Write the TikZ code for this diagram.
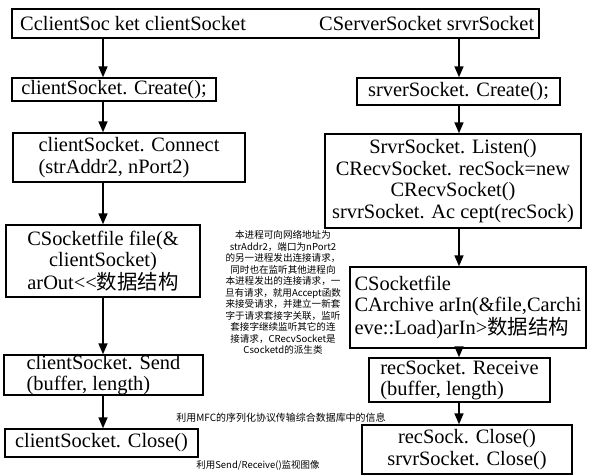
\documentclass[tikz,border=0pt]{standalone}
\usepackage{fontspec}
\setmainfont{Liberation Serif}
\newfontfamily\cjk{Noto Sans CJK SC}
\usetikzlibrary{arrows.meta}
\tikzset{
  box/.style={draw, line width=1.4bp, inner sep=0pt, font=\fontsize{20.5}{21.5}\selectfont},
  arr/.style={line width=1.6bp, -{Triangle[width=9bp,length=11bp]}},
  note/.style={inner sep=0pt, align=center, font=\cjk\fontsize{9.6}{11.5}\selectfont},
  toptext/.style={inner sep=0pt, anchor=west, font=\fontsize{20.5}{21.5}\selectfont},
}
\begin{document}
\begin{tikzpicture}[x=1bp,y=-1bp]
\fill[white] (0,0) rectangle (597,475);
\useasboundingbox (0,0) rectangle (597,475);

% top box
\node[box, minimum width=527bp, minimum height=29bp] (top) at (275.5,23.5) {};
\node[toptext] (topL) at (20,23.5) {CclientSoc ket clientSocket};
\node[toptext] (topR) at (319,23.5) {CServerSocket srvrSocket};

% left column
\node[box, minimum width=204bp, minimum height=23bp] (lc1) at (114,89.5) {clientSocket. Create();};
\node[box, minimum width=232bp, minimum height=49bp, align=left] (lc2) at (129,157.5) {clientSocket. Connect\\(strAddr2, nPort2)};
\node[box, minimum width=194bp, minimum height=72bp, align=center] (lc3) at (103,261) {CSocketfile file(\&\\clientSocket)\\arOut<{}<{\cjk 数据结构}};
\node[box, minimum width=199bp, minimum height=40bp, align=left] (lc4) at (103.5,375) {clientSocket. Send\\(buffer, length)};
\node[box, minimum width=193bp, minimum height=28bp] (lc5) at (101.5,443) {clientSocket. Close()};

% right column
\node[box, minimum width=203bp, minimum height=27bp] (rc1) at (458.5,91.5) {srverSocket. Create();};
\node[box, minimum width=256bp, minimum height=94bp, align=center] (rc2) at (453,181) {SrvrSocket. Listen()\\CRecvSocket. recSock=new\\CRecvSocket()\\srvrSocket. Ac cept(recSock)};
\node[box, minimum width=236bp, minimum height=81bp, align=left] (rc3) at (468,307.5) {CSocketfile\\CArchive arIn(\&file,Carchi\\eve::Load)arIn>{\cjk 数据结构}};
\node[box, minimum width=181bp, minimum height=44bp, align=left] (rc4) at (459.5,380) {recSocket. Receive\\(buffer, length)};
\node[box, minimum width=210bp, minimum height=49bp, align=center] (rc5) at (467,449.5) {recSock. Close()\\srvrSocket. Close()};

% arrows
\coordinate (cl) at (103,0);
\coordinate (cr) at (459,0);
\draw[arr] (top.south -| cl) -- (lc1.north -| cl);
\draw[arr] (lc1.south -| cl) -- (lc2.north -| cl);
\draw[arr] (lc2.south -| cl) -- (lc3.north -| cl);
\draw[arr] (lc3.south -| cl) -- (lc4.north -| cl);
\draw[arr] (lc4.south -| cl) -- (lc5.north -| cl);
\draw[arr] (top.south -| cr) -- (rc1.north -| cr);
\draw[arr] (rc1.south -| cr) -- (rc2.north -| cr);
\draw[arr] (rc2.south -| cr) -- (rc3.north -| cr);
\draw[arr] (rc3.south -| cr) -- (rc4.north -| cr);
\draw[arr] (rc4.south -| cr) -- (rc5.north -| cr);

% notes
\node[note] (n1) at (283,292.5) {本进程可向网络地址为\\strAddr2，端口为nPort2\\的另一进程发出连接请求，\\同时也在监听其他进程向\\本进程发出的连接请求，一\\旦有请求，就用Accept函数\\来接受请求，并建立一新套\\字于请求套接字关联，监听\\套接字继续监听其它的连\\接请求，CRecvSocket是\\Csocketd的派生类};
\node[note, font=\cjk\fontsize{10}{12}\selectfont] (n2) at (281,418) {利用MFC的序列化协议传输综合数据库中的信息};
\node[note, font=\cjk\fontsize{9.5}{12}\selectfont] (n3) at (258,465) {利用Send/Receive()监视图像};
\end{tikzpicture}
\end{document}
